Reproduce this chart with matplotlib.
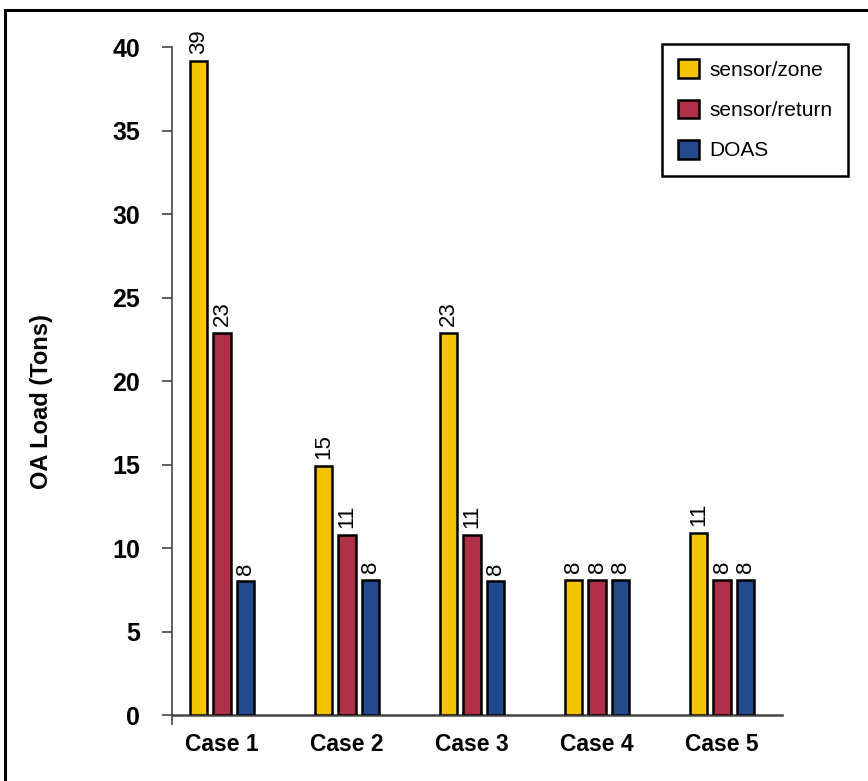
import numpy as np
import matplotlib.pyplot as plt
from matplotlib.patches import Rectangle

plt.rcParams['font.family'] = ['Liberation Sans', 'DejaVu Sans']

cases = ['Case 1', 'Case 2', 'Case 3', 'Case 4', 'Case 5']
sensor_zone = [39.2, 14.9, 22.9, 8.1, 10.9]
sensor_return = [22.9, 10.8, 10.8, 8.1, 8.1]
doas = [8.0, 8.1, 8.0, 8.1, 8.1]

series = [('sensor/zone', sensor_zone, '#F5C400'),
          ('sensor/return', sensor_return, '#B03048'),
          ('DOAS', doas, '#234A8C')]

fig = plt.figure(figsize=(8.68, 7.81), dpi=100)
ax = fig.add_axes([0.198, 0.0845, 0.703, 0.855])

x = np.arange(len(cases))
w = 0.138
step = 0.188
for i, (name, vals, col) in enumerate(series):
    pos = x + (i - 1) * step
    bars = ax.bar(pos, vals, width=w, color=col, edgecolor='black',
                  linewidth=1.8, label=name, zorder=3)
    for b, v in zip(bars, vals):
        ax.annotate('%.0f' % v, (b.get_x() + b.get_width() / 2, v),
                    xytext=(0, 5), textcoords='offset points',
                    rotation=90, ha='center', va='bottom', fontsize=16)

ax.set_xlim(-0.4, 4.48)
ax.set_ylim(0, 40)
ax.set_yticks(range(0, 41, 5))
ax.set_xticks(x)
ax.set_xticklabels(cases, fontsize=16.5, fontweight='bold')
ax.tick_params(axis='x', length=0, pad=13)
ax.tick_params(axis='y', direction='out', length=7, width=1.2,
               labelsize=18, pad=16, color='#444444')
for lab in ax.get_yticklabels():
    lab.set_fontweight('bold')

# small downward tick where the axes meet
ax.set_xticks([-0.4], minor=True)
ax.tick_params(axis='x', which='minor', direction='out', length=7,
               width=1.2, color='#444444')

for s in ['top', 'right']:
    ax.spines[s].set_visible(False)
ax.spines['left'].set_color('#444444')
ax.spines['left'].set_linewidth(1.2)
ax.spines['bottom'].set_color('#444444')
ax.spines['bottom'].set_linewidth(1.8)

ax.set_ylabel('OA Load (Tons)', fontsize=17, fontweight='bold')
ax.yaxis.set_label_coords(-0.195, 0.47)

leg = ax.legend(loc='upper right', bbox_to_anchor=(0.977, 0.944),
                bbox_transform=fig.transFigure, fontsize=15, fancybox=False,
                framealpha=1, edgecolor='black', handlelength=1.0,
                handleheight=1.0, labelspacing=0.95, borderpad=0.75,
                handletextpad=0.5, borderaxespad=0)
leg.get_frame().set_linewidth(1.8)

# outer frame around the figure
fig.patches.append(Rectangle((0.006, -0.1), 1.2, 1.087, transform=fig.transFigure,
                             fill=False, edgecolor='black', linewidth=2.2))

plt.savefig('out.png', dpi=100)
